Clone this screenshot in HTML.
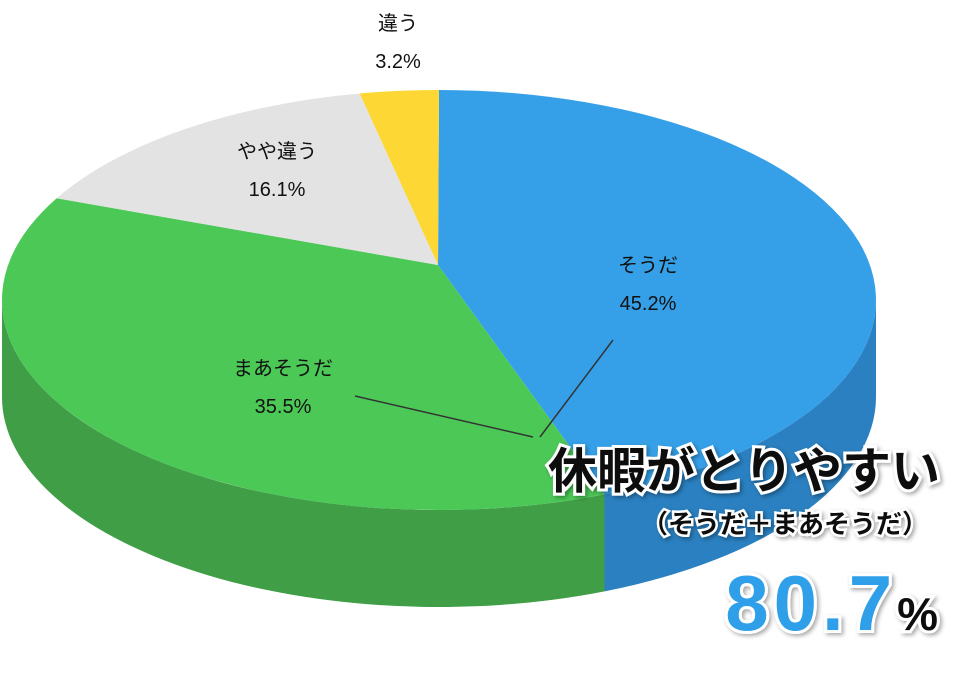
<!DOCTYPE html>
<html><head><meta charset="utf-8"><style>
body{margin:0;background:#fff;width:962px;height:685px;overflow:hidden}
svg text{font-family:"Liberation Sans","Noto Sans CJK JP",sans-serif}
</style></head><body>
<svg width="962" height="685" viewBox="0 0 962 685" xmlns="http://www.w3.org/2000/svg">
<defs>
<filter id="sh" x="-10%" y="-30%" width="120%" height="160%"><feDropShadow dx="2" dy="2" stdDeviation="2" flood-color="#000" flood-opacity="0.35"/></filter>
</defs>
<g id="pie"></g>
<g id="labels"></g>
<line x1="613" y1="340" x2="540" y2="437" stroke="#333" stroke-width="1.5"/>
<line x1="355" y1="396" x2="533" y2="437" stroke="#333" stroke-width="1.5"/>
<g filter="url(#sh)">
<text x="940" y="488" text-anchor="end" font-size="49" font-weight="bold" fill="#111" stroke="#fff" stroke-width="6" paint-order="stroke">休暇がとりやすい</text>
<text x="928" y="533" text-anchor="end" font-size="26" font-weight="bold" fill="#111" stroke="#fff" stroke-width="5" paint-order="stroke">（そうだ＋まあそうだ）</text>
<text x="938" y="630" text-anchor="end" stroke="#fff" stroke-width="6" paint-order="stroke" font-weight="bold"><tspan font-size="78" fill="#2f9fe8" letter-spacing="5">80.7</tspan><tspan font-size="46" fill="#111">%</tspan></text>
</g>
</svg>
<script>
const categories=["そうだ","まあそうだ","やや違う","違う"];
const values=[45.2,35.5,16.1,3.2];
const topColors=["#35a0e8","#4cc857","#e3e3e3","#fdd835"];
const sideColors=["#2a80c0","#3f9e46","#bdbdbd","#d4b020"];
const labelPos=[[648,272],[283,375],[277,158],[398,30]];
const cx=439,cy=300,rx=437,ry=210,depth=97,ax=438,ay=265;
const ns="http://www.w3.org/2000/svg";
const pie=document.getElementById('pie'),lab=document.getElementById('labels');
function pt(a,dy){return [cx+rx*Math.sin(a),cy-ry*Math.cos(a)+(dy||0)];}
// perspective warp: map a true pie angle to ellipse parameter angle
function warp(a){return a+(-11.1*Math.sin(a)+2.96*Math.sin(2*a))*Math.PI/180;}
const total=values.reduce((s,v)=>s+v,0);
let acc=0;const angles=[];
values.forEach(v=>{const a1=acc/total*2*Math.PI;acc+=v;const a2=acc/total*2*Math.PI;angles.push([warp(a1),warp(a2)]);});
angles.forEach(([a1,a2],i)=>{
  const s=Math.max(a1,Math.PI/2),e=Math.min(a2,1.5*Math.PI);
  if(e<=s)return;
  const p1=pt(s),p2=pt(e),q2=pt(e,depth),q1=pt(s,depth);
  const p=document.createElementNS(ns,'path');
  p.setAttribute('d',`M${p1} A${rx},${ry} 0 0 1 ${p2} L${q2} A${rx},${ry} 0 0 0 ${q1} Z`);
  p.setAttribute('fill',sideColors[i]);
  
  
  pie.appendChild(p);
});
angles.forEach(([a1,a2],i)=>{
  const p1=pt(a1),p2=pt(a2);const large=(a2-a1)>Math.PI?1:0;
  const p=document.createElementNS(ns,'path');
  p.setAttribute('d',`M${ax},${ay} L${p1} A${rx},${ry} 0 ${large} 1 ${p2} Z`);
  p.setAttribute('fill',topColors[i]);
  
  
  pie.appendChild(p);
  const t=document.createElementNS(ns,'text');
  
  
  t.setAttribute('x',labelPos[i][0]);t.setAttribute('y',labelPos[i][1]);
  t.setAttribute('text-anchor','middle');t.setAttribute('font-size','20');t.setAttribute('fill','#111');
  t.innerHTML=`<tspan x="${labelPos[i][0]}">${categories[i]}</tspan><tspan x="${labelPos[i][0]}" dy="38">${values[i].toFixed(1)}%</tspan>`;
  lab.appendChild(t);
});
</script>
</body></html>
